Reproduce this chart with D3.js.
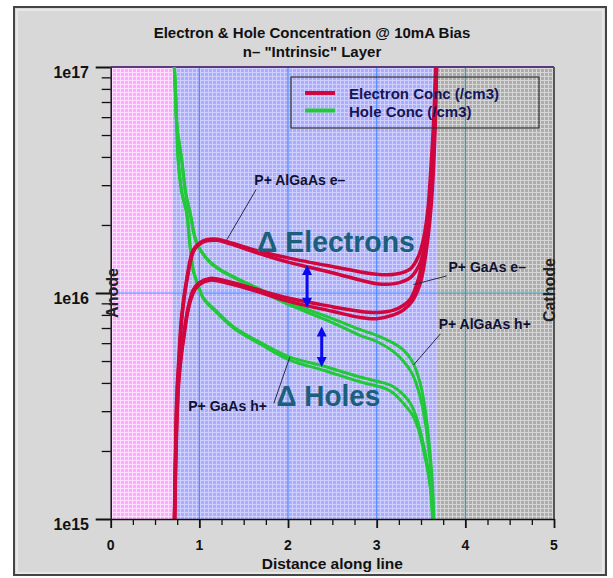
<!DOCTYPE html>
<html><head><meta charset="utf-8">
<script src="https://cdn.jsdelivr.net/npm/d3@7"></script>
<style>
html,body{margin:0;padding:0;background:#fff;}
svg{display:block;}
text{font-family:"Liberation Sans Narrow","Arial Narrow","Liberation Sans",Arial,sans-serif;font-weight:bold;}
</style></head>
<body>
<svg id="chart" width="613" height="578"></svg>
<script>
// ---------------- data ----------------
const title = "Electron & Hole Concentration @ 10mA Bias";
const subtitle = "n\u2013 \"Intrinsic\" Layer";
const xLabel = "Distance along line";
const xTicks = [0, 1, 2, 3, 4, 5];
const yTicks = [1e15, 1e16, 1e17];
const yTickLabels = ["1e15", "1e16", "1e17"];
const legendLabels = ["Electron Conc (/cm3)", "Hole Conc (/cm3)"];
// layer regions [start, end] along the line
const anodeRegion = [0, 0.70];
const intrinsicRegion = [0.70, 3.69];
const cathodeRegion = [3.69, 5];

// Electron concentration, P+ AlGaAs structure (two traces)
const elecAlGaAs1 = [[0.720,1.0e15],[0.728,1.6e15],[0.737,2.75e15],[0.750,3.8e15],[0.763,4.7e15],[0.800,7.9e15],[0.857,1.15e16],[0.930,1.55e16],[1.00,1.66e16],[1.08,1.72e16],[1.20,1.73e16],[1.35,1.67e16],[1.60,1.56e16],[2.00,1.43e16],[2.50,1.31e16],[3.00,1.21e16],[3.20,1.21e16],[3.38,1.28e16],[3.47,1.45e16],[3.53,1.75e16],[3.58,2.4e16],[3.61,3.5e16],[3.64,5.5e16],[3.665,1e17]];
const elecAlGaAs2 = [[0.722,1.0e15],[0.731,1.6e15],[0.740,2.75e15],[0.753,3.8e15],[0.767,4.7e15],[0.805,7.9e15],[0.862,1.15e16],[0.935,1.53e16],[1.00,1.64e16],[1.08,1.70e16],[1.20,1.71e16],[1.35,1.65e16],[1.60,1.53e16],[2.00,1.37e16],[2.50,1.23e16],[3.00,1.10e16],[3.20,1.10e16],[3.38,1.17e16],[3.48,1.33e16],[3.55,1.65e16],[3.60,2.3e16],[3.63,3.5e16],[3.655,5.5e16],[3.675,1e17]];
// Electron concentration, P+ GaAs structure (two traces)
const elecGaAs1 = [[0.718,1e15],[0.730,1.8e15],[0.745,2.75e15],[0.763,4.0e15],[0.790,5.2e15],[0.820,6.4e15],[0.870,8.5e15],[0.930,1.03e16],[1.00,1.11e16],[1.12,1.16e16],[1.30,1.13e16],[1.60,1.05e16],[2.00,9.5e15],[2.50,8.7e15],[2.81,8.3e15],[3.00,8.2e15],[3.19,8.4e15],[3.30,8.8e15],[3.38,9.4e15],[3.47,1.15e16],[3.53,1.5e16],[3.58,2.1e16],[3.62,3.2e16],[3.65,5.5e16],[3.67,1e17]];
const elecGaAs2 = [[0.720,1e15],[0.733,1.8e15],[0.748,2.75e15],[0.767,4.0e15],[0.795,5.2e15],[0.826,6.4e15],[0.876,8.5e15],[0.936,1.01e16],[1.00,1.09e16],[1.12,1.14e16],[1.30,1.11e16],[1.60,1.03e16],[2.00,9.2e15],[2.50,8.3e15],[2.81,7.8e15],[3.00,7.7e15],[3.19,8.0e15],[3.30,8.4e15],[3.40,9.2e15],[3.49,1.1e16],[3.55,1.45e16],[3.60,2.1e16],[3.635,3.2e16],[3.66,5.5e16],[3.675,1e17]];
// Hole concentration, P+ AlGaAs structure (two traces)
const holeAlGaAs1 = [[0.716,1e17],[0.730,7.5e16],[0.745,5.45e16],[0.775,4.5e16],[0.800,3.87e16],[0.845,2.76e16],[0.895,2.25e16],[0.970,1.66e16],[1.10,1.40e16],[1.25,1.26e16],[1.55,1.10e16],[1.85,9.7e15],[2.00,9.1e15],[2.50,7.7e15],[2.81,6.9e15],[3.00,6.5e15],[3.19,6.0e15],[3.30,5.6e15],[3.40,5.0e15],[3.49,4.0e15],[3.55,3.0e15],[3.60,2.0e15],[3.63,1.4e15],[3.645,1e15]];
const holeAlGaAs2 = [[0.718,1e17],[0.732,7.5e16],[0.747,5.45e16],[0.778,4.5e16],[0.803,3.87e16],[0.848,2.76e16],[0.898,2.25e16],[0.973,1.66e16],[1.10,1.39e16],[1.25,1.25e16],[1.55,1.09e16],[1.85,9.5e15],[2.00,8.9e15],[2.50,7.4e15],[2.81,6.5e15],[3.00,6.1e15],[3.19,5.5e15],[3.30,5.0e15],[3.40,4.4e15],[3.48,3.6e15],[3.54,2.8e15],[3.59,2.0e15],[3.625,1.4e15],[3.64,1e15]];
// Hole concentration, P+ GaAs structure (two traces)
const holeGaAs1 = [[0.718,1e17],[0.732,7.5e16],[0.745,5.45e16],[0.760,3.87e16],[0.800,2.8e16],[0.830,2.5e16],[0.857,2.25e16],[0.895,1.6e16],[0.930,1.26e16],[0.990,1.07e16],[1.045,9.5e15],[1.18,8.4e15],[1.384,7.1e15],[1.70,6.0e15],[2.02,5.2e15],[2.40,4.75e15],[2.81,4.25e15],[3.08,4.0e15],[3.19,3.85e15],[3.30,3.55e15],[3.38,3.25e15],[3.45,2.8e15],[3.52,2.2e15],[3.57,1.75e15],[3.60,1.45e15],[3.63,1e15]];
const holeGaAs2 = [[0.720,1e17],[0.734,7.5e16],[0.747,5.45e16],[0.763,3.87e16],[0.803,2.8e16],[0.833,2.5e16],[0.860,2.25e16],[0.898,1.6e16],[0.933,1.26e16],[0.993,1.06e16],[1.05,9.4e15],[1.18,8.3e15],[1.384,7.0e15],[1.70,5.9e15],[2.02,5.05e15],[2.40,4.55e15],[2.81,4.05e15],[3.08,3.8e15],[3.19,3.6e15],[3.30,3.25e15],[3.40,2.9e15],[3.47,2.5e15],[3.53,2.0e15],[3.58,1.6e15],[3.615,1.3e15],[3.635,1e15]];

// annotations: [text, textX, textValue, pointFromX, pointFromValue, pointToX, pointToValue]
const annotations = [
  ["P+ AlGaAs e\u2013", 1.62, 3.0e16, 1.64, 2.87e16, 1.31, 1.72e16],
  ["P+ GaAs e\u2013",   3.81, 1.24e16, 3.79, 1.19e16, 3.415, 1.09e16],
  ["P+ AlGaAs h+",      3.70, 6.9e15, 3.72, 6.6e15, 3.415, 4.8e15],
  ["P+ GaAs h+",        0.875, 3.0e15, 1.84, 3.25e15, 2.02, 5.2e15]
];
// big labels: [text, x, value, width in x units]
const bigLabels = [["\u0394 Electrons", 1.65, 1.52e16, 1.78], ["\u0394 Holes", 1.87, 3.17e15, 1.17]];
// double arrows: [x, topValue, bottomValue]
const deltaArrows = [[2.215, 1.33e16, 8.6e15], [2.38, 7.1e15, 4.7e15]];
const sideLabels = [["Anode", 0.03, 1e16], ["Cathode", 4.96, 1.03e16]];

// ---------------- drawing ----------------
const svg = d3.select("#chart");
const pL = 110.7, pR = 554, pT = 67, pB = 519;
const x = d3.scaleLinear().domain([0, 5]).range([pL, pR]);
const y = d3.scaleLog().domain([1e15, 1e17]).range([pB, pT]);

// panel background
svg.append("rect").attr("x", 14).attr("y", 7).attr("width", 592).attr("height", 568)
  .attr("fill", "#d8d8d8").attr("stroke", "#444").attr("stroke-width", 2);
svg.append("rect").attr("x", 17).attr("y", 10).attr("width", 586).attr("height", 563)
  .attr("fill", "none").attr("stroke", "#ececec").attr("stroke-width", 1.5);

const defs = svg.append("defs");
function pattern(id, base, light) {
  const p = defs.append("pattern").attr("id", id).attr("patternUnits", "userSpaceOnUse")
    .attr("width", 4).attr("height", 4);
  p.append("rect").attr("width", 4).attr("height", 4).attr("fill", base);
  p.append("rect").attr("width", 4).attr("height", 1).attr("fill", light);
  p.append("rect").attr("width", 1).attr("height", 4).attr("fill", light);
}
pattern("pinkP", "#ffaaff", "#ffdfff");
pattern("blueP", "#acacff", "#d0d0ff");
pattern("grayP", "#acacac", "#d6d6d6");
defs.append("clipPath").attr("id", "plotClip").append("rect")
  .attr("x", pL).attr("y", pT).attr("width", pR - pL).attr("height", pB - pT);

const regions = [[anodeRegion, "url(#pinkP)"], [intrinsicRegion, "url(#blueP)"], [cathodeRegion, "url(#grayP)"]];
svg.append("g").selectAll("rect").data(regions).join("rect")
  .attr("x", d => x(d[0][0])).attr("y", pT)
  .attr("width", d => x(d[0][1]) - x(d[0][0])).attr("height", pB - pT)
  .attr("fill", d => d[1]);

// grid lines
const grid = svg.append("g");
grid.selectAll("line.v").data([1, 2, 3, 4]).join("line")
  .attr("x1", d => x(d)).attr("x2", d => x(d)).attr("y1", pT).attr("y2", pB)
  .attr("stroke", d => d < cathodeRegion[0] ? "#4c8cff" : "#3a98b0").attr("stroke-width", 1.2);
grid.append("line").attr("x1", pL).attr("x2", x(cathodeRegion[0])).attr("y1", y(1e16)).attr("y2", y(1e16))
  .attr("stroke", "#4c8cff").attr("stroke-width", 1.2);
grid.append("line").attr("x1", x(cathodeRegion[0])).attr("x2", pR).attr("y1", y(1e16)).attr("y2", y(1e16))
  .attr("stroke", "#3a98b0").attr("stroke-width", 1.2);

// plot frame
svg.append("line").attr("x1", pL).attr("x2", pR).attr("y1", pT).attr("y2", pT).attr("stroke", "#5a3a7a").attr("stroke-width", 2);
svg.append("line").attr("x1", pR).attr("x2", pR).attr("y1", pT).attr("y2", pB).attr("stroke", "#555").attr("stroke-width", 2);

// curves
const line = d3.line().x(d => x(d[0])).y(d => y(d[1])).curve(d3.curveCatmullRom.alpha(0.5));
const curves = svg.append("g").attr("clip-path", "url(#plotClip)");
const series = [
  [holeAlGaAs1, "#22c83a", 3], [holeAlGaAs2, "#22c83a", 3],
  [holeGaAs1, "#22c83a", 3], [holeGaAs2, "#22c83a", 3],
  [elecAlGaAs1, "#d0063f", 3.5], [elecAlGaAs2, "#d0063f", 3.5],
  [elecGaAs1, "#d0063f", 3.5], [elecGaAs2, "#d0063f", 3.5]
];
curves.selectAll("path").data(series).join("path")
  .attr("d", d => line(d[0])).attr("fill", "none")
  .attr("stroke", d => d[1]).attr("stroke-width", d => d[2]).attr("stroke-linejoin", "round");

// axes
const yMinor = d3.range(15, 17).flatMap(e => d3.range(1, 10).map(m => m * Math.pow(10, e))).concat([1e17]);
const yAxis = d3.axisLeft(y).tickValues(yMinor).tickFormat("").tickSizeOuter(0);
const yg = svg.append("g").attr("transform", `translate(${pL},0)`).call(yAxis);
yg.selectAll(".tick line").attr("x2", d => yTicks.includes(d) ? -15 : -9)
  .attr("stroke", "#111").attr("stroke-width", d => yTicks.includes(d) ? 2 : 1.3);
yg.select(".domain").attr("stroke", "#111").attr("stroke-width", 1.5);
svg.append("g").selectAll("text").data(yTicks).join("text")
  .attr("x", 89).attr("y", d => y(d) + 10.5).attr("text-anchor", "end")
  .attr("font-size", 16).attr("fill", "#111").text((d, i) => yTickLabels[i]);

const xAxis = d3.axisBottom(x).tickValues(d3.range(0, 5.01, 0.25)).tickFormat("").tickSizeOuter(0);
const xg = svg.append("g").attr("transform", `translate(0,${pB})`).call(xAxis);
xg.selectAll(".tick line").attr("y2", d => Number.isInteger(d) ? 9 : 6)
  .attr("stroke", "#111").attr("stroke-width", d => Number.isInteger(d) ? 1.8 : 1.3);
xg.select(".domain").attr("stroke", "#111").attr("stroke-width", 1.5);
svg.append("g").selectAll("text").data(xTicks).join("text")
  .attr("x", d => x(d)).attr("y", 550).attr("text-anchor", "middle")
  .attr("font-size", 14).attr("fill", "#111").text(d => d);

svg.append("text").attr("x", (pL + pR) / 2).attr("y", 569).attr("text-anchor", "middle")
  .attr("font-size", 15.5).attr("fill", "#111").text(xLabel);
svg.append("text").attr("x", 312).attr("y", 38).attr("text-anchor", "middle")
  .attr("font-size", 15).attr("fill", "#111").text(title);
svg.append("text").attr("x", 312).attr("y", 57).attr("text-anchor", "middle")
  .attr("font-size", 15).attr("fill", "#111").text(subtitle);

// side labels
svg.append("g").selectAll("text").data(sideLabels).join("text")
  .attr("transform", d => `translate(${x(d[1]) + 5},${y(d[2])}) rotate(-90)`)
  .attr("text-anchor", "middle").attr("font-size", 16).attr("fill", "#222").text(d => d[0]);

// legend
const lg = svg.append("g");
lg.append("rect").attr("x", 291).attr("y", 77).attr("width", 248).attr("height", 51)
  .attr("fill", "none").attr("stroke", "#333").attr("stroke-width", 1.2);
const legendColors = ["#d0063f", "#22c83a"];
legendLabels.forEach((t, i) => {
  lg.append("line").attr("x1", 305).attr("x2", 335).attr("y1", 93 + i * 17.5).attr("y2", 93 + i * 17.5)
    .attr("stroke", legendColors[i]).attr("stroke-width", 4);
  lg.append("text").attr("x", 349).attr("y", 99 + i * 17.5).attr("font-size", 15)
    .attr("fill", "#15155a").text(t);
});

// annotations
const ann = svg.append("g");
annotations.forEach(a => {
  ann.append("line").attr("x1", x(a[3])).attr("y1", y(a[4])).attr("x2", x(a[5])).attr("y2", y(a[6]))
    .attr("stroke", "#2a2a4a").attr("stroke-width", 1);
  ann.append("text").attr("x", x(a[1])).attr("y", y(a[2])).attr("font-size", 14)
    .attr("fill", "#111133").text(a[0]);
});
svg.append("g").selectAll("text").data(bigLabels).join("text")
  .attr("x", d => x(d[1])).attr("y", d => y(d[2])).attr("font-size", 30)
  .attr("textLength", d => x(d[3]) - x(0)).attr("lengthAdjust", "spacingAndGlyphs")
  .attr("fill", "#1b5f7c").text(d => d[0]);

// delta arrows
const arr = svg.append("g");
deltaArrows.forEach(a => {
  const xa = x(a[0]), y1 = y(a[1]), y2 = y(a[2]);
  arr.append("line").attr("x1", xa).attr("x2", xa).attr("y1", y1 + 8).attr("y2", y2 - 8)
    .attr("stroke", "#0a0af0").attr("stroke-width", 3);
  arr.append("path").attr("d", `M${xa},${y1} L${xa - 5},${y1 + 10} L${xa + 5},${y1 + 10} Z`).attr("fill", "#0a0af0");
  arr.append("path").attr("d", `M${xa},${y2} L${xa - 5},${y2 - 10} L${xa + 5},${y2 - 10} Z`).attr("fill", "#0a0af0");
});
</script>
</body></html>
